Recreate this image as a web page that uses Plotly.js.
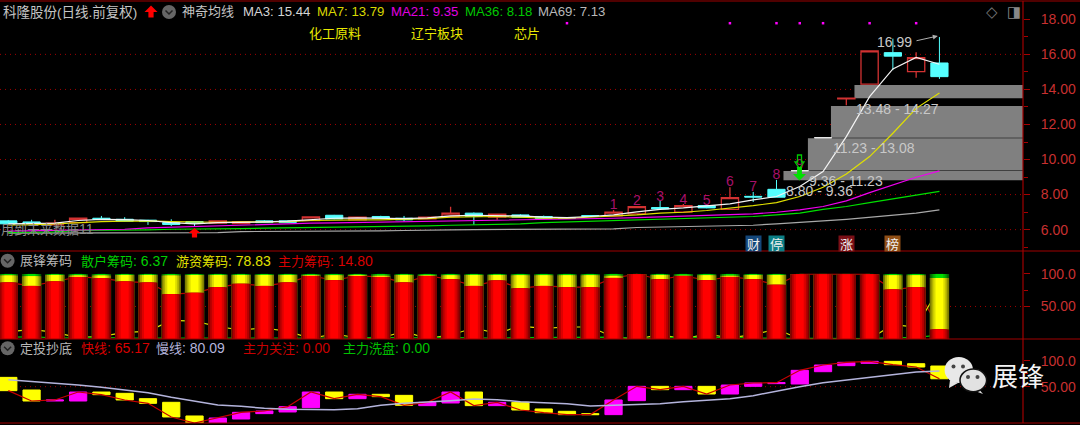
<!DOCTYPE html>
<html><head><meta charset="utf-8">
<script src="https://cdn.plot.ly/plotly-3.0.1.min.js"></script>
<style>html,body{margin:0;padding:0;background:#000;overflow:hidden}#c{width:1080px;height:425px}</style>
</head><body><div id="c"></div>
<script>
// ---------- data ----------
const days = Array.from({length:41},(_,i)=>i);
const openP  = [6.50,6.44,6.27,6.40,6.65,6.59,6.54,6.40,6.46,6.37,6.35,6.50,6.50,6.52,6.82,6.56,6.75,6.65,6.61,6.75,6.94,6.71,6.84,6.75,6.69,6.80,6.78,6.90,7.26,7.00,7.37,7.16,7.90,8.30,9.37,11.25,13.46,14.30,16.10,15.02,15.51];
const highP  = [6.55,6.56,6.56,6.65,6.78,6.71,6.56,6.59,6.48,6.52,6.48,6.54,6.52,6.73,6.84,6.75,6.79,6.78,6.75,7.31,6.98,6.92,6.88,6.80,6.71,6.82,7.12,7.31,7.64,7.46,7.40,8.42,8.15,8.84,9.37,11.25,13.50,16.20,16.90,16.12,16.99];
const lowP   = [6.30,6.35,6.25,6.40,6.55,6.46,6.27,6.21,6.18,6.35,6.33,6.38,6.38,6.50,6.59,6.54,6.63,6.46,6.59,6.73,6.27,6.56,6.69,6.63,6.63,6.74,6.76,6.90,7.16,7.00,7.22,7.16,7.58,7.85,9.36,11.24,13.10,14.30,15.10,14.67,14.60];
const closeP = [6.33,6.37,6.37,6.65,6.59,6.48,6.46,6.29,6.37,6.50,6.46,6.40,6.40,6.73,6.61,6.71,6.65,6.56,6.71,6.94,6.75,6.88,6.71,6.65,6.65,6.76,7.00,7.31,7.18,7.37,7.24,7.83,7.86,7.85,9.36,11.24,13.50,16.20,15.90,15.81,14.73];
const ma3  = [6.33,6.37,6.37,6.52,6.59,6.57,6.52,6.40,6.33,6.40,6.40,6.44,6.48,6.56,6.65,6.67,6.65,6.63,6.67,6.78,6.82,6.80,6.78,6.71,6.69,6.75,6.84,7.01,7.16,7.24,7.35,7.47,7.70,7.89,8.46,9.31,11.31,13.59,15.17,15.83,15.44];
const ma7  = [6.27,6.27,6.33,6.40,6.46,6.48,6.50,6.46,6.42,6.42,6.44,6.44,6.46,6.52,6.56,6.56,6.56,6.59,6.63,6.71,6.75,6.75,6.71,6.65,6.65,6.71,6.75,6.84,6.94,6.99,7.09,7.22,7.37,7.54,7.89,8.42,9.18,10.17,11.50,12.92,13.79];
const ma21 = [5.91,5.93,5.93,5.99,5.99,6.02,6.10,6.14,6.18,6.21,6.27,6.31,6.33,6.37,6.38,6.40,6.44,6.46,6.48,6.52,6.54,6.56,6.57,6.59,6.61,6.63,6.65,6.69,6.73,6.75,6.78,6.84,6.90,6.99,7.13,7.32,7.64,8.11,8.55,8.99,9.35];
const ma36 = [5.83,5.85,5.87,5.95,5.95,5.95,5.99,6.02,6.02,6.02,6.06,6.08,6.10,6.12,6.12,6.12,6.16,6.18,6.21,6.25,6.27,6.31,6.33,6.40,6.44,6.48,6.52,6.56,6.59,6.63,6.67,6.71,6.75,6.84,6.94,7.16,7.32,7.54,7.75,7.98,8.18];
const ma69 = [5.80,5.80,5.81,5.81,5.83,5.83,5.83,5.83,5.83,5.83,5.89,5.89,5.89,5.89,5.89,5.89,5.93,5.95,5.99,5.99,6.00,6.00,6.00,6.04,6.04,6.04,6.04,6.12,6.14,6.18,6.18,6.21,6.25,6.33,6.40,6.50,6.59,6.71,6.80,6.94,7.13];
const zoneLow   = [8.80,9.36,11.23,13.48];
const zoneHigh  = [9.36,11.23,13.08,14.27];
const zoneStart = [33.3,34.35,35.34,36.35];
const zoneText  = ["8.80 - 9.36","9.36 - 11.23","11.23 - 13.08","13.48 - 14.27"];
const zoneTextX = [34.84,36.0,37.2,38.2];
const zoneTextY = [8.19,8.76,10.66,12.86];
const countDays = [26,27,28,29,30,31,32,33,34];
const countY    = [7.35,7.58,7.85,7.69,7.62,8.70,8.38,9.08,9.65];
const countText = ["1","2","3","4","5","6","7","8","9"];
const dotDays = [24,31,33,34,35,37,39];
const dotY    = [17.78,17.78,17.78,17.78,17.78,17.78,17.78];
const badgeDays = [32,33,36,38];
const badgeText = ["财","停","涨","榜"];
const badgeColors = ["#14477a","#0c7f86","#7a0f16","#8f4f16"];
const sectors = ["化工原料","辽宁板块","芯片"];
const gridPrices = [6,8,10,12,14,16];
const mainChip = [86.7,81.6,88.3,95.4,93.4,88.3,86.7,68.9,70.9,79.6,84.7,81.6,86.7,96.9,90.3,96.9,95.4,86.7,96.9,91.8,81.6,89.8,78.1,81.6,79.6,79.6,93.9,99.5,91.8,96.9,90.3,95.4,91.8,83.2,99.5,99.5,99.5,99.5,76,79.6,14.8];
const hotChip  = [10.8,14.9,10.2,2.1,4.1,10.2,11.8,28.6,27.6,18.9,13.8,16.9,11.8,1.1,7.7,1.6,1.6,11.8,0.6,6.2,16.9,8.7,19.9,16.4,18.4,18.4,3.1,0,6.7,0.1,7.7,1.6,6.7,15.3,0,0,0,0,22,18.4,78.83];
const retailChip=[2.5,3.5,1.5,2.5,2.5,1.5,1.5,2.5,1.5,1.5,1.5,1.5,1.5,2,2,1.5,3,1.5,2.5,2,1.5,1.5,2,2,2,2,3,0.5,1.5,3,2,3,1.5,1.5,0.5,0.5,0.5,0.5,2,2,6.37];
const blockOpen = [67.9,43.6,22.4,22.4,39.7,37.2,26.9,19.9,-6.4,-19.9,-12.2,-1.9,1.3,9.6,39.7,26.9,35.3,33.3,13.5,18.6,39.7,13.5,19.9,7.1,2.6,-1.9,-3.8,23.1,50.6,44.2,50.6,35.9,50.6,55.8,55.1,78.8,90.4,94.9,98.7,94.2,89.7];
const fastLine  = [42.3,22.4,24.4,39.7,34.6,24.4,17.9,-8.3,-19.9,-10.3,0.6,3.2,11.5,39.7,26.9,35.3,30.8,14.1,19.9,39.7,13.5,19.9,5.1,0,-3.8,-3.8,24.4,50.6,44.2,50.6,35.9,53.2,57.1,57.7,81.4,91.7,96.8,98.7,92.3,87.8,65.17];
const slowLine  = [63.5,60.3,57.1,53.2,48.7,43.6,38.5,29.5,22.4,14.7,12.2,8.3,6.4,5.8,5.8,7.7,14.1,17.9,21.2,23.1,26.3,25,21.2,19.9,17.3,12.8,14.7,16.7,17.3,21.2,23.7,26.9,32.7,41.7,50,57.7,62.8,68.6,72.4,78.2,80.09];

// ---------- helpers ----------
const W=1080,H=425,AX=1023;
const px=x=>x/W, py=y=>1-y/H;
const LAT="Liberation Sans, Noto Sans CJK SC, sans-serif";
const RED="#a80000";
const cjk=(s,sz)=>`<span style="font-size:${sz||13}px">${s}</span>`;
const note=(x,y,text,color,size,extra)=>Object.assign({xref:'paper',yref:'paper',x:px(x),y:py(y),text,showarrow:false,
  xanchor:'left',yanchor:'middle',borderpad:0,font:{family:LAT,size:size||14,color}},extra||{});

const xBase={range:[-0.357,43.59],visible:false,showgrid:false,zeroline:false};
const tickFont={family:"Liberation Sans, sans-serif",size:14,color:"#c83030"};
const yBase={side:'right',showgrid:false,zeroline:false,showline:false,ticks:'outside',ticklen:6,tickwidth:1,tickcolor:RED,
  tickfont:tickFont,ticklabelstandoff:8,
  minor:{ticks:'outside',ticklen:4,tickwidth:1,tickcolor:RED,showgrid:false}};

const traces=[];
// price panel
const isFlat=i=>i===34||i===35;
const pick=(a,f)=>a.filter((_,i)=>f(i));
traces.push({type:'candlestick',x:pick(days,i=>!isFlat(i)),open:pick(openP,i=>!isFlat(i)),high:pick(highP,i=>!isFlat(i)),low:pick(lowP,i=>!isFlat(i)),close:pick(closeP,i=>!isFlat(i)),
  xaxis:'x',yaxis:'y',whiskerwidth:0,
  increasing:{line:{color:'#d23232',width:1.3},fillcolor:'#000'},
  decreasing:{line:{color:'#55ffff',width:1},fillcolor:'#55ffff'},showlegend:false,hoverinfo:'skip'});
traces.push({type:'candlestick',x:pick(days,isFlat),open:pick(openP,isFlat),high:pick(highP,isFlat),low:pick(lowP,isFlat),close:pick(closeP,isFlat),
  xaxis:'x',yaxis:'y',whiskerwidth:0,
  increasing:{line:{color:'#e8e8e8',width:1},fillcolor:'#e8e8e8'},
  decreasing:{line:{color:'#e8e8e8',width:1},fillcolor:'#e8e8e8'},showlegend:false,hoverinfo:'skip'});
[[ma69,'#a8a8a8'],[ma36,'#00e000'],[ma21,'#f000f0'],[ma7,'#e0e000'],[ma3,'#f4f4f4']].forEach(([y,color])=>{
  traces.push({type:'scatter',mode:'lines',x:days,y,xaxis:'x',yaxis:'y',line:{color,width:1.2},showlegend:false,hoverinfo:'skip'});
});
traces.push({type:'scatter',mode:'markers',x:dotDays,y:dotY,xaxis:'x',yaxis:'y',marker:{symbol:'square',size:2.5,color:'#ff00ff'},showlegend:false,hoverinfo:'skip'});
traces.push({type:'scatter',mode:'text',x:countDays,y:countY,text:countText,xaxis:'x',yaxis:'y',textposition:'middle center',
  textfont:{family:"Liberation Sans",size:14,color:'#a8106a'},showlegend:false,hoverinfo:'skip'});

// chip panel: lines behind, bars in front
[[mainChip,'#c00000'],[hotChip,'#e0e000'],[retailChip,'#00c000']].forEach(([y,color])=>{
  traces.push({type:'scatter',mode:'lines',x:days,y,xaxis:'x2',yaxis:'y2',line:{color,width:1.2},showlegend:false,hoverinfo:'skip'});
});
const bandTotals=[days.map(i=>mainChip[i]+hotChip[i]+retailChip[i]),days.map(i=>mainChip[i]+hotChip[i]),mainChip];
const shades=[['#006000','#009000','#00b800','#00dc00'],['#7c7c00','#b0b000','#dcdc00','#ffff00'],['#7c0000','#b00000','#dc0000','#ff0000']];
const widths=[0.83,0.68,0.52,0.34];
bandTotals.forEach((y,b)=>widths.forEach((w,k)=>{
  traces.push({type:'bar',x:days,y,width:w,xaxis:'x2',yaxis:'y4',marker:{color:shades[b][k],line:{width:0}},showlegend:false,hoverinfo:'skip'});
}));

// oscillator panel
traces.push({type:'candlestick',x:days,open:blockOpen,close:fastLine,
  high:days.map(i=>Math.max(blockOpen[i],fastLine[i])),low:days.map(i=>Math.min(blockOpen[i],fastLine[i])),
  xaxis:'x3',yaxis:'y3',whiskerwidth:0,
  increasing:{line:{color:'#ff00ff',width:1},fillcolor:'#ff00ff'},
  decreasing:{line:{color:'#ffff00',width:1},fillcolor:'#ffff00'},showlegend:false,hoverinfo:'skip'});
traces.push({type:'scatter',mode:'lines',x:days,y:fastLine,xaxis:'x3',yaxis:'y3',line:{color:'#c80000',width:1.2},showlegend:false,hoverinfo:'skip'});
traces.push({type:'scatter',mode:'lines',x:days,y:slowLine,xaxis:'x3',yaxis:'y3',line:{color:'#b4b4dc',width:1.5},showlegend:false,hoverinfo:'skip'});

// ---------- shapes ----------
const shapes=[];
const gridDash='1px,4px';
gridPrices.forEach(p=>shapes.push({type:'line',layer:'below',xref:'x',yref:'y',x0:-0.357,x1:43.59,y0:p,y1:p,line:{color:'#a00000',width:1,dash:gridDash}}));
shapes.push({type:'line',layer:'below',xref:'x2',yref:'y2',x0:-0.357,x1:43.59,y0:50,y1:50,line:{color:'#a00000',width:1,dash:gridDash}});
shapes.push({type:'line',layer:'below',xref:'x3',yref:'y3',x0:-0.357,x1:43.59,y0:50,y1:50,line:{color:'#a00000',width:1,dash:gridDash}});
zoneLow.forEach((lo,i)=>shapes.push({type:'rect',layer:'below',xref:'x',yref:'y',x0:zoneStart[i],x1:43.59,y0:lo+0.02,y1:zoneHigh[i]-0.02,fillcolor:'#808080',line:{width:0}}));
[1,251,339,423].forEach(y=>shapes.push({type:'line',xref:'paper',yref:'paper',x0:0,x1:1,y0:py(y),y1:py(y),line:{color:'#a00000',width:1.2}}));
shapes.push({type:'line',xref:'paper',yref:'paper',x0:px(AX),x1:px(AX),y0:py(1),y1:py(423),line:{color:'#a00000',width:1.2}});
// collapse buttons
[[169,12],[7.6,260.7],[7.6,348.3]].forEach(([x,y])=>{
  shapes.push({type:'circle',xref:'paper',yref:'paper',x0:px(x-7),x1:px(x+7),y0:py(y+7),y1:py(y-7),fillcolor:'#666',line:{width:0}});
  shapes.push({type:'path',xref:'paper',yref:'paper',path:`M ${px(x-3.5)} ${py(y-1.5)} L ${px(x)} ${py(y+2)} L ${px(x+3.5)} ${py(y-1.5)}`,line:{color:'#222',width:1.5}});
});
// arrows: [centre x, tip y, head base y, tail y, head half-width, shaft half-width, direction]
const arrowPath=(cx,tip,base,tail,hw,sw)=>{
  const p=[[cx,tip],[cx+hw,base],[cx+sw,base],[cx+sw,tail],[cx-sw,tail],[cx-sw,base],[cx-hw,base]];
  return 'M '+p.map(q=>px(q[0])+' '+py(q[1])).join(' L ')+' Z';
};
const arrowShape=(args,fill,line)=>({type:'path',xref:'paper',yref:'paper',path:arrowPath(...args),fillcolor:fill,line:line||{width:0}});
shapes.push(arrowShape([151,5.5,12,17.5,6.5,2.6],'#ff0000'));
shapes.push(arrowShape([194.5,228,233,237.5,6,2.6],'#ff0000'));
shapes.push(arrowShape([799.5,168.5,162,155,4.5,2],'rgba(0,0,0,0)',{color:'#00c800',width:1.3}));
shapes.push(arrowShape([799.5,180.5,174,167,6.5,2.4],'#00e000'));
// watermark
const ell=(x0,x1,y0,y1,fill,ln)=>({type:'circle',xref:'paper',yref:'paper',x0:px(x0),x1:px(x1),y0:py(y1),y1:py(y0),fillcolor:fill,line:ln||{width:0}});
const tri=(a,b,c,fill)=>({type:'path',xref:'paper',yref:'paper',path:`M ${px(a[0])} ${py(a[1])} L ${px(b[0])} ${py(b[1])} L ${px(c[0])} ${py(c[1])} Z`,fillcolor:fill,line:{width:0}});
shapes.push(tri([950,380],[949,388],[958,383],'#e4e4e4'));
shapes.push(ell(944.6,973,357,383,'#e8e8e8'));
shapes.push(ell(951.5,955.5,364.5,368.5,'#444'));
shapes.push(ell(961,965,364.5,368.5,'#444'));
shapes.push(tri([978,388],[983,394],[975,391],'#dcdcdc'));
shapes.push(ell(960,986.6,369,391.7,'#e2e2e2',{color:'#111',width:1.5}));
shapes.push(ell(966,970,375,379,'#444'));
shapes.push(ell(975.5,979.5,375,379,'#444'));

// ---------- annotations ----------
const annotations=[
  note(2,11.5,cjk("科隆股份(日线.前复权)",13.5),'#c4c4c4',14),
  note(181,11.5,cjk("神奇均线"),'#c4c4c4'),
  note(242,11.5,"MA3: 15.44",'#d4d4d4',13.2),
  note(316,11.5,"MA7: 13.79",'#d8d800',13.2),
  note(390,11.5,"MA21: 9.35",'#e000e0',13.2),
  note(464,11.5,"MA36: 8.18",'#00c800',13.2),
  note(537,11.5,"MA69: 7.13",'#b8b8b8',13.2),
  note(985,12,"◇",'#777',15,{font:{family:"DejaVu Sans",size:15,color:'#777'}}),
  note(1006,12,"◨",'#888',15,{font:{family:"DejaVu Sans",size:15,color:'#888'}}),
  note(308,33.5,cjk(sectors[0]),'#e8e800'),
  note(410,33.5,cjk(sectors[1]),'#e8e800'),
  note(513,33.5,cjk(sectors[2]),'#e8e800'),
  note(0,229,cjk("用到未来数据")+"11",'#8a8a8a'),
  note(19,260.7,cjk("展锋筹码"),'#b8b8b8'),
  note(80,260.7,cjk("散户筹码")+": 6.37",'#00d000'),
  note(175,260.7,cjk("游资筹码")+": 78.83",'#e0e000'),
  note(277,260.7,cjk("主力筹码")+": 14.80",'#d80000'),
  note(19,348.3,cjk("定投抄底"),'#b8b8b8'),
  note(80,348.3,cjk("快线")+": 65.17",'#d80000'),
  note(155,348.3,cjk("慢线")+": 80.09",'#b4b4dc'),
  note(242,348.3,cjk("主力关注")+": 0.00",'#c80000'),
  note(342,348.3,cjk("主力洗盘")+": 0.00",'#00c000'),
  note(991,377,cjk("展锋",26),'#f4f4f4',26),
  {xref:'x',yref:'y',x:38.09,y:16.71,text:"16.99",showarrow:false,borderpad:0,font:{family:LAT,size:14,color:'#c8c8c8'}},
  {xref:'x',yref:'y',axref:'x',ayref:'y',x:39.93,y:17.05,ax:38.95,ay:16.76,text:"",showarrow:true,arrowhead:2,arrowsize:1,arrowwidth:1,arrowcolor:'#b0b0b0'},
];
zoneText.forEach((t,i)=>annotations.push({xref:'x',yref:'y',x:zoneTextX[i],y:zoneTextY[i],text:t,showarrow:false,borderpad:0,font:{family:LAT,size:14,color:'#c8c8c8'}}));
badgeDays.forEach((d,i)=>annotations.push({xref:'x',yref:'paper',x:d,y:py(243),text:badgeText[i],showarrow:false,bgcolor:badgeColors[i],width:15,height:15,borderpad:0,
  font:{family:"Noto Sans CJK SC",size:13,color:'#f0f0f0'}}));

const layout={
  width:W,height:H,margin:{l:0,r:0,t:0,b:0,pad:0},paper_bgcolor:'#000',plot_bgcolor:'#000',showlegend:false,
  barmode:'overlay',boxmode:'overlay',boxgap:0.26,boxgroupgap:0,
  xaxis:Object.assign({},xBase,{domain:[0,AX/W],anchor:'y',rangeslider:{visible:false}}),
  xaxis2:Object.assign({},xBase,{domain:[0,AX/W],anchor:'y2'}),
  xaxis3:Object.assign({},xBase,{domain:[0,AX/W],anchor:'y3',rangeslider:{visible:false}}),
  yaxis:Object.assign({},yBase,{domain:[py(251),py(2)],anchor:'x',range:[4.78,18.99],tickvals:[6,8,10,12,14,16,18],ticktext:["6.00","8.00","10.00","12.00","14.00","16.00","18.00"],
    minor:Object.assign({},yBase.minor,{tickvals:[5,7,9,11,13,15,17]})}),
  yaxis2:Object.assign({},yBase,{domain:[py(339),py(251)],anchor:'x2',range:[0,135.2],tickvals:[50,100],ticktext:["50.00","100.0"],
    minor:Object.assign({},yBase.minor,{tickvals:[75]})}),
  yaxis4:{overlaying:'y2',side:'left',range:[0,135.2],visible:false,showgrid:false,zeroline:false,anchor:'x2'},
  yaxis3:Object.assign({},yBase,{domain:[py(423),py(339)],anchor:'x3',range:[-19.9,141.7],tickvals:[50,100],ticktext:["50.00","100.0"],
    minor:Object.assign({},yBase.minor,{tickvals:[75]})}),
  shapes,annotations
};
Plotly.newPlot('c',traces,layout,{displayModeBar:false,staticPlot:true});
</script></body></html>
